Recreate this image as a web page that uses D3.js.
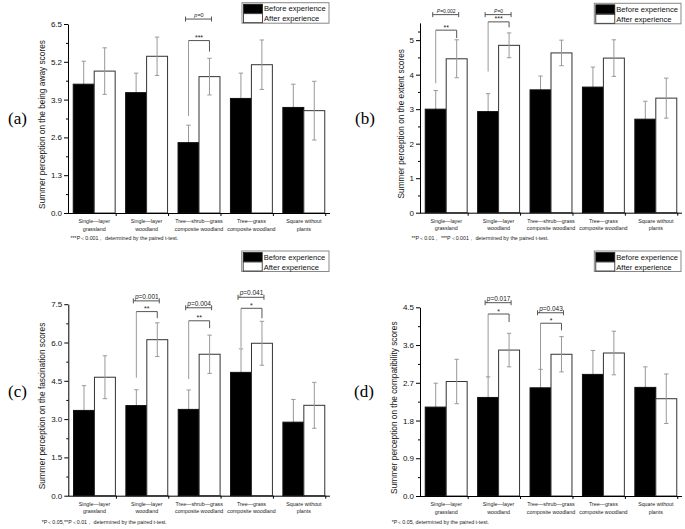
<!DOCTYPE html>
<html><head><meta charset="utf-8">
<script src="https://cdn.jsdelivr.net/npm/d3@7"></script>
<style>body{margin:0;background:#fff}svg{display:block}text{font-family:Arial,"Liberation Sans",sans-serif}text.tag{font-family:"Liberation Serif","DejaVu Serif",serif}</style>
</head><body><div id="chart"></div>
<script>
const catLine1 = ["Single\u2014layer","Single\u2014layer","Tree\u2014shrub\u2014grass","Tree\u2014grass","Square without"];
const catLine2 = ["grassland","woodland","composite woodland","composite woodland","plants"];
const seriesNames = ["Before experience","After experience"];

// (a) being away
const beforeA = [4.43, 4.14, 2.42, 3.94, 3.63];
const beforeErrA = [0.79, 0.67, 0.60, 0.87, 0.80];
const afterA = [4.88, 5.39, 4.69, 5.10, 3.52];
const afterErrA = [0.80, 0.66, 0.63, 0.85, 1.01];
// (b) extent
const beforeB = [3.00, 2.93, 3.56, 3.64, 2.71];
const beforeErrB = [0.54, 0.52, 0.40, 0.58, 0.52];
const afterB = [4.46, 4.85, 4.63, 4.48, 3.32];
const afterErrB = [0.55, 0.36, 0.37, 0.53, 0.58];
// (c) fascination
const beforeC = [3.34, 3.53, 3.38, 4.83, 2.88];
const beforeErrC = [0.97, 0.62, 0.76, 0.92, 0.89];
const afterC = [4.64, 6.11, 5.54, 5.97, 3.54];
const afterErrC = [0.84, 0.66, 0.75, 0.86, 0.90];
// (d) compatibility
const beforeD = [2.12, 2.35, 2.58, 2.90, 2.59];
const beforeErrD = [0.57, 0.49, 0.44, 0.57, 0.49];
const afterD = [2.73, 3.48, 3.38, 3.41, 2.32];
const afterErrD = [0.53, 0.40, 0.42, 0.52, 0.59];

// y tick values
const ticksA = [0, 1.3, 2.6, 3.9, 5.2, 6.5];
const ticksB = [0, 1, 2, 3, 4, 5];
const ticksC = [0, 1.5, 3.0, 4.5, 6.0, 7.5];
const ticksD = [0, 0.9, 1.8, 2.7, 3.6, 4.5];

// significance brackets: [group, leftStart, bracketTop, rightEnd, pLine, stars, pText]
const sigA = [[2, 3.34, 5.93, 5.55, 6.67, "***", "p=0"]];
const sigB = [[0, 3.75, 5.29, 5.06, 5.74, "**", "P=0.002"], [1, 4.09, 5.53, 5.37, 5.74, "***", "P=0"]];
const sigC = [[1, 4.62, 7.21, 6.95, 7.63, "**", "p=0.001"], [2, 4.57, 6.85, 6.56, 7.36, "**", "p=0.004"], [3, 5.79, 7.34, 6.95, 7.77, "*", "p=0.041"]];
const sigD = [[1, 2.83, 4.34, 4.15, 4.61, "*", "p=0.017"], [2, 3.01, 4.12, 3.95, 4.37, "*", "p=0.043"]];

const yLabels = ["Summer perception on the  being away scores","Summer perception on the  extent scores","Summer perception on the fascination scores","Summer perception on the compatibility scores"];
const notes = ["***P\uFF1C0.001\uFF0C determined by the paired t-test.","**P\uFF1C0.01\uFF0C ***P\uFF1C0.001\uFF0C determined by the paired t-test.","*P\uFF1C0.05,**P\uFF1C0.01\uFF0C determined by the paired t-test.","*P\uFF1C0.05, determined by the paired t-test."];
const panelTags = ["(a)","(b)","(c)","(d)"];

const panels = [
  {before:beforeA, bErr:beforeErrA, after:afterA, aErr:afterErrA, ticks:ticksA, max:6.5, fmt:d3.format(".1f"), sig:sigA, pSize:5.5,
   x0:68, x1:330, yTop:24, yBot:213, labX:43, tagX:8, tagY:124, noteX:70.5, noteY:240, leg:[242,2.7]},
  {before:beforeB, bErr:beforeErrB, after:afterB, aErr:afterErrB, ticks:ticksB, max:5.5, fmt:d3.format("d"), sig:sigB, pSize:5,
   x0:420, x1:682, yTop:22.9, yBot:212.7, labX:401.5, tagX:355, tagY:124, noteX:411.5, noteY:240, leg:[594.3,3.3]},
  {before:beforeC, bErr:beforeErrC, after:afterC, aErr:afterErrC, ticks:ticksC, max:7.5, fmt:d3.format(".1f"), sig:sigC, pSize:6.5,
   x0:68.3, x1:330, yTop:304.2, yBot:495.7, labX:43.3, tagX:8, tagY:397, noteX:41.7, noteY:523.5, leg:[241.7,251]},
  {before:beforeD, bErr:beforeErrD, after:afterD, aErr:afterErrD, ticks:ticksD, max:4.5, fmt:d3.format(".1f"), sig:sigD, pSize:6.5,
   x0:420, x1:682, yTop:307.3, yBot:496, labX:395, tagX:354, tagY:397, noteX:391.7, noteY:523.5, leg:[594.3,251]}
];

const svg = d3.select("#chart").append("svg").attr("width",685).attr("height",529);
svg.append("rect").attr("width",685).attr("height",529).attr("fill","#fff");

panels.forEach((p, pi) => {
  const g = svg.append("g");
  const idx = d3.range(catLine1.length);
  const x = d3.scaleBand().domain(idx).range([p.x0, p.x1]).paddingInner(0.2).paddingOuter(0.1);
  const xs = d3.scaleBand().domain([0,1]).range([0, x.bandwidth()]);
  const y = d3.scaleLinear().domain([0, p.max]).range([p.yBot, p.yTop]);
  const vals = [p.before, p.after], errs = [p.bErr, p.aErr];
  const cx = (gi, s) => x(gi) + xs(s) + xs.bandwidth()/2;

  const drawErr = s => {
    idx.forEach(i => {
      const c = cx(i, s), v = vals[s][i], e = errs[s][i];
      g.append("line").attr("x1",c).attr("x2",c).attr("y1",y(v+e)).attr("y2",y(v-e)).attr("stroke","#999").attr("stroke-width",1);
      [v+e, v-e].forEach(t => g.append("line").attr("x1",c-2.2).attr("x2",c+2.2).attr("y1",y(t)).attr("y2",y(t)).attr("stroke","#999").attr("stroke-width",1));
    });
  };
  const drawBars = s => {
    g.selectAll(null).data(idx).enter().append("rect")
      .attr("x", i => x(i) + xs(s)).attr("width", xs.bandwidth())
      .attr("y", i => y(vals[s][i])).attr("height", i => y(0) - y(vals[s][i]))
      .attr("fill", s === 0 ? "#000" : "#fff")
      .attr("stroke", s === 0 ? "#111" : "#333").attr("stroke-width", 1);
  };
  drawErr(0);
  drawBars(0);
  drawBars(1);
  drawErr(1);

  // y axis
  const minor = d3.range(0, p.ticks.length-1).map(k => (p.ticks[k]+p.ticks[k+1])/2);
  if (p.max > p.ticks[p.ticks.length-1]) minor.push((p.ticks[p.ticks.length-1]+p.max)/2);
  const yAx = g.append("g").attr("transform",`translate(${p.x0},0)`)
    .call(d3.axisLeft(y).tickValues(p.ticks).tickFormat(p.fmt).tickSize(4).tickSizeOuter(0).tickPadding(2));
  yAx.select(".domain").attr("stroke","#000");
  yAx.selectAll("text").attr("font-size",8).attr("fill","#111");
  g.append("g").attr("transform",`translate(${p.x0},0)`)
    .call(d3.axisLeft(y).tickValues(minor).tickFormat("").tickSize(2).tickSizeOuter(0))
    .select(".domain").remove();

  // x axis
  g.append("line").attr("x1",p.x0).attr("x2",p.x1).attr("y1",p.yBot+0.5).attr("y2",p.yBot+0.5).attr("stroke","#000");
  idx.forEach(i => {
    const tx = x(i) + x.bandwidth() + 1;
    g.append("line").attr("x1",tx).attr("x2",tx).attr("y1",p.yBot).attr("y2",p.yBot+3).attr("stroke","#000");
    const c = x(i) + x.bandwidth()/2;
    g.append("text").attr("x",c).attr("y",p.yBot+10).attr("text-anchor","middle").attr("font-size",5.3).attr("fill","#222").text(catLine1[i]);
    g.append("text").attr("x",c).attr("y",p.yBot+17.5).attr("text-anchor","middle").attr("font-size",5.3).attr("fill","#222").text(catLine2[i]);
  });

  // y label
  const my = (p.yTop + p.yBot)/2 + 6;
  g.append("text").attr("transform",`translate(${p.labX},${my}) rotate(-90)`).attr("text-anchor","middle")
    .attr("dominant-baseline","middle").attr("font-size",8.3).attr("fill","#111").text(yLabels[pi]);

  // panel tag
  g.append("text").attr("class","tag").attr("x",p.tagX).attr("y",p.tagY)
    .attr("font-size",17).attr("fill","#000").text(panelTags[pi]);

  // note
  g.append("text").attr("x",p.noteX).attr("y",p.noteY).attr("font-size",5.3).attr("fill","#222").text(notes[pi]);

  // significance
  p.sig.forEach(sg => {
    const [gi, ls, top, re, pl, stars, ptxt] = sg;
    const a = cx(gi,0), b = cx(gi,1);
    g.append("line").attr("x1",a).attr("x2",a).attr("y1",y(ls)).attr("y2",y(top)).attr("stroke","#999");
    g.append("path").attr("d",`M${a},${y(top)}H${b}V${y(re)}`).attr("fill","none").attr("stroke","#555");
    g.append("text").attr("x",(a+b)/2).attr("y",y(top)-0.5).attr("text-anchor","middle").attr("font-size",7).attr("fill","#222").text(stars);
    const l = a-3, r = b+2, py = y(pl);
    g.append("path").attr("d",`M${l},${py-2.5}V${py+2.5}M${l},${py}H${r}M${r},${py-2.5}V${py+2.5}`).attr("fill","none").attr("stroke","#555");
    const t = g.append("text").attr("x",(a+b)/2).attr("y",py-2).attr("text-anchor","middle").attr("font-size",p.pSize).attr("fill","#222");
    t.append("tspan").attr("font-style","italic").text(ptxt.slice(0,1));
    t.append("tspan").text(ptxt.slice(1));
  });

  // legend
  const [lx, ly] = p.leg;
  const lg = g.append("g").attr("transform",`translate(${lx},${ly})`);
  lg.append("rect").attr("x",0).attr("y",0).attr("width",p.x1-lx-1).attr("height",20.5).attr("fill","#fff").attr("stroke","#888");
  seriesNames.forEach((nm, s) => {
    lg.append("rect").attr("x",1.5).attr("y",1.5+s*9.5).attr("width",19).attr("height",9).attr("fill", s===0?"#000":"#fff").attr("stroke","#222").attr("stroke-width",0.8);
    lg.append("text").attr("x",22).attr("y",8.8+s*9.7).attr("font-size",7.6).attr("fill","#111").text(nm);
  });
});
</script></body></html>
